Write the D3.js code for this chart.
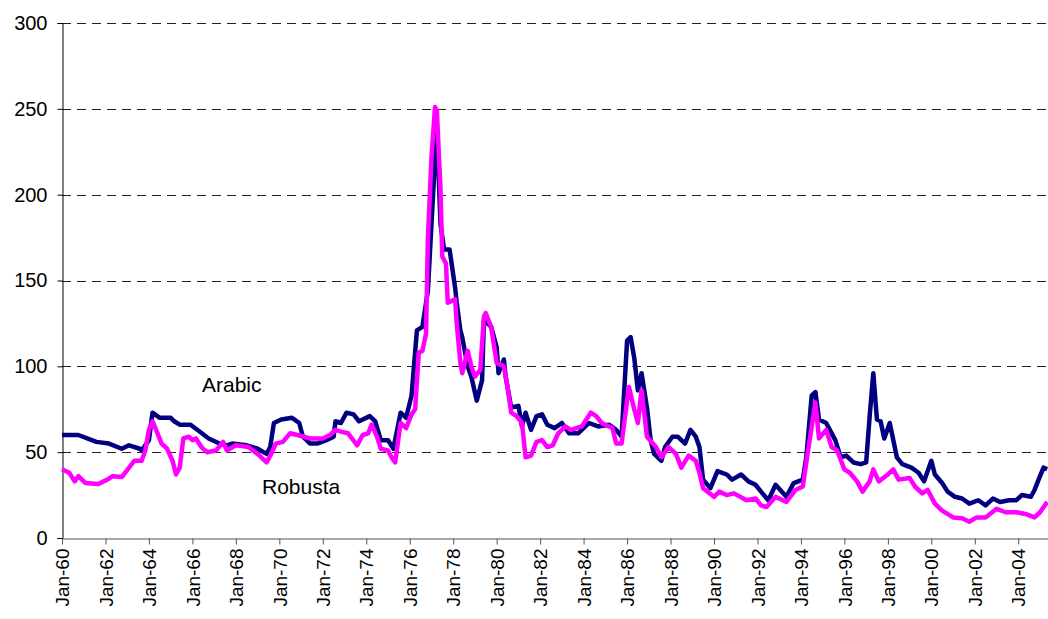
<!DOCTYPE html>
<html>
<head>
<meta charset="utf-8">
<script src="https://cdn.jsdelivr.net/npm/d3@7"></script>
<style>
  body { margin: 0; background: #fff; }
  text { font-family: Arial, "Liberation Sans", sans-serif; }
</style>
</head>
<body>
<div id="chart"></div>
<script>
// readings, month + value
const arabicMonths = ['1960-01','1960-10','1961-08','1962-03','1962-10','1963-02','1963-08','1963-09','1964-01','1964-03','1964-07','1965-01','1965-03','1965-06','1965-12','1966-05','1966-10','1967-04','1967-08','1967-11','1968-07','1969-01','1969-06','1969-08','1969-10','1970-02','1970-08','1970-12','1971-02','1971-06','1971-10','1972-03','1972-07','1972-08','1972-11','1973-02','1973-06','1973-09','1974-03','1974-06','1974-09','1975-01','1975-04','1975-08','1975-11','1976-02','1976-05','1976-08','1976-11','1977-02','1977-04','1977-06','1977-08','1977-11','1978-02','1978-03','1978-05','1978-06','1978-09','1978-11','1979-02','1979-05','1979-06','1979-10','1980-01','1980-02','1980-05','1980-06','1980-09','1981-01','1981-03','1981-05','1981-08','1981-11','1982-02','1982-05','1982-09','1983-01','1983-05','1983-10','1984-04','1984-09','1985-03','1985-07','1985-10','1986-01','1986-03','1986-05','1986-07','1986-09','1986-12','1987-02','1987-04','1987-08','1987-10','1988-02','1988-05','1988-09','1988-12','1989-03','1989-05','1989-07','1989-11','1990-03','1990-08','1990-11','1991-04','1991-08','1991-12','1992-03','1992-07','1992-11','1993-05','1993-09','1994-02','1994-04','1994-07','1994-09','1994-11','1995-03','1995-05','1995-08','1995-11','1996-02','1996-06','1996-10','1997-01','1997-03','1997-05','1997-07','1997-09','1997-11','1998-02','1998-06','1998-09','1999-02','1999-06','1999-09','2000-01','2000-03','2000-07','2000-10','2001-02','2001-06','2001-10','2002-03','2002-07','2002-11','2003-03','2003-08','2003-12','2004-03','2004-08','2004-10','2005-01','2005-03','2005-05'];
const arabicValues = [60,60,56,55,52,54,52,51,57,73,70,70,68,66,66,62,58,55,54,55,54,52,49,53,67,69,70,67,59,55,55,57,59,68,67,73,72,68,71,68,57,57,52,73,70,83,121,123,144,203,240,183,168,168,146,137,121,117,100,94,80,92,127,123,111,96,104,94,76,77,65,73,63,71,72,66,64,67,61,61,67,65,66,63,59,115,117,105,86,96,76,57,49,45,53,59,59,55,63,59,53,34,29,39,37,34,37,33,31,27,22,31,24,32,34,47,83,85,69,67,63,57,47,48,44,43,44,71,96,69,68,58,67,47,43,41,38,33,45,37,32,27,24,23,20,22,19,23,21,22,22,25,24,28,36,41,40];

const robustaMonths = ['1960-01','1960-05','1960-08','1960-10','1961-02','1961-09','1962-02','1962-05','1962-10','1963-02','1963-05','1963-09','1963-11','1964-01','1964-03','1964-05','1964-08','1964-11','1965-02','1965-04','1965-06','1965-08','1965-11','1966-01','1966-03','1966-06','1966-09','1967-02','1967-06','1967-08','1968-01','1968-08','1969-02','1969-06','1969-09','1969-11','1970-03','1970-07','1970-11','1971-06','1972-01','1972-05','1972-08','1972-11','1973-03','1973-08','1973-11','1974-02','1974-04','1974-07','1974-09','1975-01','1975-03','1975-05','1975-08','1975-11','1976-02','1976-04','1976-06','1976-08','1976-10','1976-11','1977-01','1977-03','1977-04','1977-06','1977-07','1977-09','1977-10','1978-02','1978-03','1978-05','1978-06','1978-09','1978-11','1979-01','1979-04','1979-06','1979-07','1979-10','1980-01','1980-05','1980-07','1980-09','1980-12','1981-03','1981-05','1981-08','1981-11','1982-02','1982-05','1982-08','1982-11','1983-03','1983-06','1983-12','1984-05','1984-08','1984-11','1985-05','1985-07','1985-10','1986-01','1986-02','1986-05','1986-07','1986-09','1986-12','1987-05','1987-08','1987-12','1988-04','1988-07','1988-11','1989-03','1989-05','1989-07','1990-01','1990-04','1990-08','1990-12','1991-07','1991-12','1992-03','1992-06','1992-11','1993-05','1993-10','1994-02','1994-05','1994-09','1994-11','1995-03','1995-06','1995-09','1996-01','1996-04','1996-08','1996-11','1997-03','1997-05','1997-08','1998-01','1998-04','1998-07','1999-01','1999-04','1999-08','1999-11','2000-03','2000-07','2001-01','2001-06','2001-10','2002-02','2002-07','2003-01','2003-06','2003-12','2004-05','2004-10','2005-01','2005-05'];
const robustaValues = [40,38,33,36,32,31.5,34,36,35.5,41,45,45,51,63,68,63,55,52,45,37,41,58,59,57,58,53,50,51,56,51,54,53,48,44,50,55,56,61,60,58,58,60,63,62,61,54,60,61,66,59,52,51,47,44,67,64,72,75,108,109,119,174,222,251,249,203,164,160,137,139,125,102,96,109,100,94,98,129,131,123,102,100,88,73,71,67,47,48,56,57,53,54,61,65,63,65,73,71,67,64,55,55,80,88,75,67,86,59,53,47,53,49,41,48,45,38,29,24,27,25,26,22,23,19,18,24,21,28,30,51,79,58,63,53,51,40,38,33,27,33,40,33,37,40,34,35,30,26,28,20,16,12,11.5,9.5,12,12,17,15,15,14,12,15,21];

const yTicks = [0, 50, 100, 150, 200, 250, 300];
const xTickYears = d3.range(1960, 2005, 2);

const WIDTH = 1048;
const HEIGHT = 619;
const margin = {top: 23, right: 0, bottom: 81, left: 62};

const parseMonth = d3.timeParse('%Y-%m');
const fmtTick = d3.timeFormat('Jan-%y');

const arabic = arabicMonths.map((m, i) => ({date: parseMonth(m), value: arabicValues[i]}));
const robusta = robustaMonths.map((m, i) => ({date: parseMonth(m), value: robustaValues[i]}));

const svg = d3.select('#chart')
    .append('svg')
        .attr('width', WIDTH)
        .attr('height', HEIGHT);

const x = d3.scaleTime()
    .domain([new Date(1960, 0, 1), new Date(2005, 4, 15)])
    .range([margin.left, WIDTH - margin.right]);

const y = d3.scaleLinear()
    .domain([0, 300])
    .range([HEIGHT - margin.bottom, margin.top]);

// dashed grid
svg.append('g')
    .selectAll('line')
    .data(yTicks.filter(d => d > 0))
    .join('line')
        .attr('x1', margin.left)
        .attr('x2', WIDTH - margin.right)
        .attr('y1', d => Math.round(y(d)) + 0.5)
        .attr('y2', d => Math.round(y(d)) + 0.5)
        .attr('stroke', '#222')
        .attr('stroke-dasharray', '9,6');

const yAxis = svg.append('g')
    .attr('transform', `translate(${margin.left + 0.5},0)`)
    .call(d3.axisLeft(y).tickValues(yTicks).tickSize(5).tickPadding(10));

yAxis.select('.domain').attr('stroke', '#000');
yAxis.selectAll('text')
    .style('font-size', '20px')
    .attr('fill', '#000');

const xAxis = svg.append('g')
    .attr('transform', `translate(0,${Math.round(y(0)) + 0.5})`)
    .call(d3.axisBottom(x)
        .tickValues(xTickYears.map(yr => new Date(yr, 0, 1)))
        .tickFormat(fmtTick)
        .tickSize(6)
        .tickSizeOuter(0));

xAxis.select('.domain').attr('stroke', '#555');
xAxis.selectAll('.tick line').attr('stroke', '#555');
xAxis.selectAll('text')
    .style('font-size', '19px')
    .attr('fill', '#000')
    .attr('text-anchor', 'end')
    .attr('transform', 'rotate(-90)')
    .attr('x', -10)
    .attr('y', 0)
    .attr('dy', '0.35em');

const line = d3.line()
    .x(d => x(d.date))
    .y(d => y(d.value));

svg.append('path')
    .datum(arabic)
    .attr('fill', 'none')
    .attr('stroke', '#000080')
    .attr('stroke-width', 4.5)
    .attr('stroke-linejoin', 'round')
    .attr('d', line);

svg.append('path')
    .datum(robusta)
    .attr('fill', 'none')
    .attr('stroke', '#ff00ff')
    .attr('stroke-width', 4.5)
    .attr('stroke-linejoin', 'round')
    .attr('d', line);

svg.append('text')
    .attr('x', 202)
    .attr('y', 392)
    .style('font-size', '21px')
    .text('Arabic');

svg.append('text')
    .attr('x', 262)
    .attr('y', 494)
    .style('font-size', '21px')
    .text('Robusta');
</script>
</body>
</html>
